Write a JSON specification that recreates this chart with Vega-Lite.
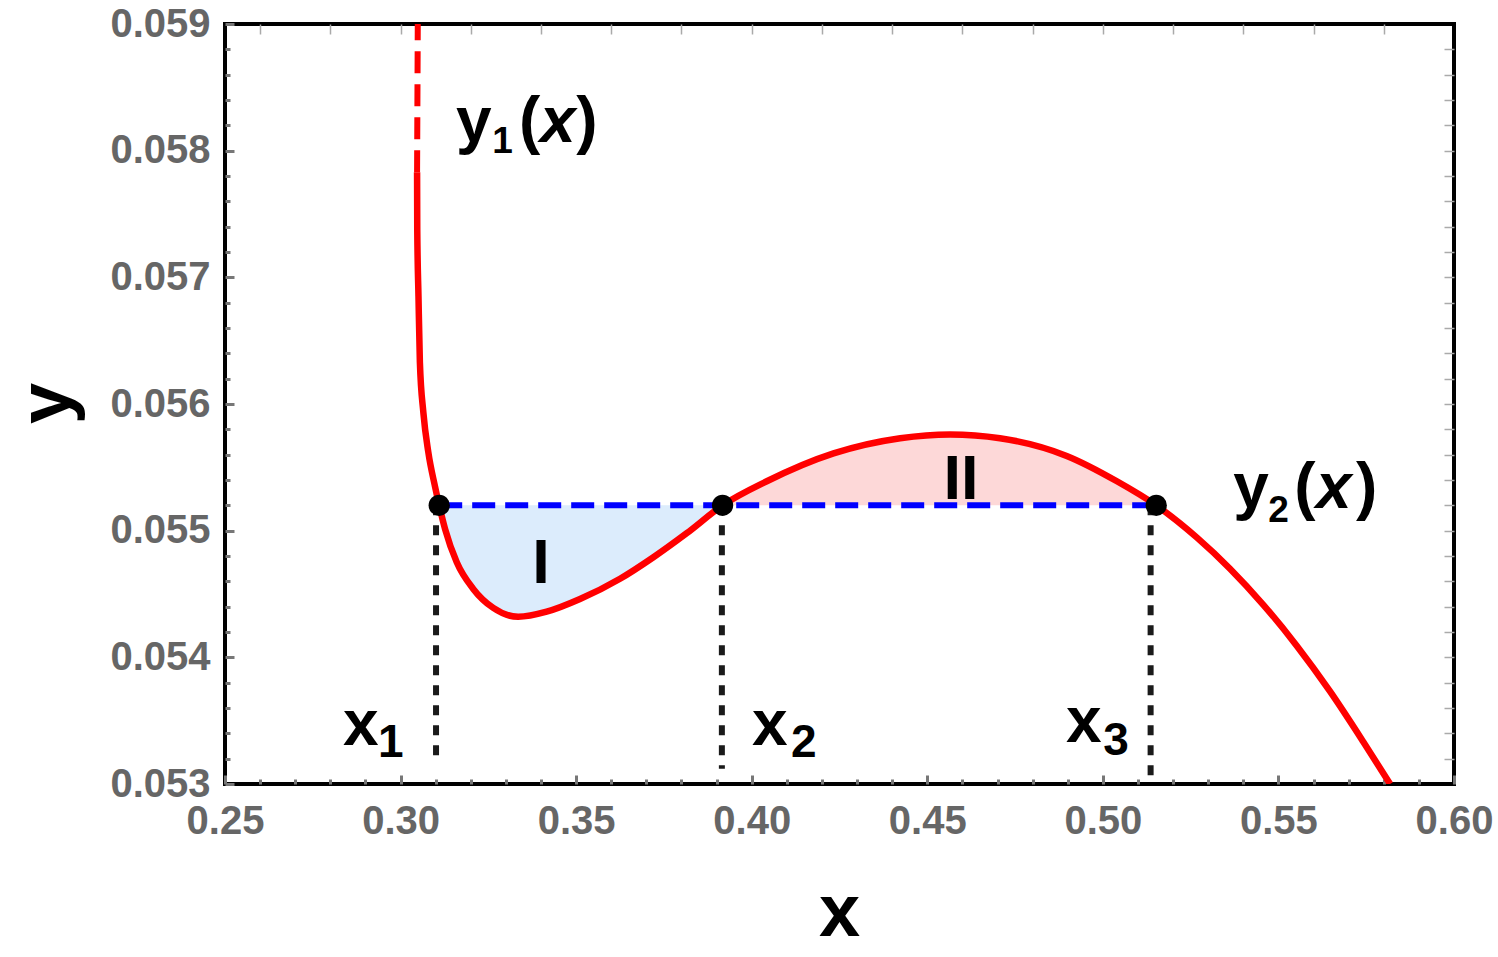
{
  "$schema": "https://vega.github.io/schema/vega-lite/v6.json",
  "width": 1229,
  "height": 760,
  "autosize": "none",
  "padding": {"left": 225, "top": 24, "right": 44, "bottom": 173},
  "background": "white",
  "config": {
    "view": {"stroke": "black", "strokeWidth": 4},
    "axis": {"domain": false, "grid": false, "labelFont": "Liberation Sans", "labelFontWeight": "bold", "labelColor": "#666666", "titleFont": "Liberation Sans", "titleFontWeight": "bold", "titleColor": "black", "labelFlush": false, "labelOverlap": false}
  },
  "datasets": {
    "curve": [
      {"x": 0.3047, "y": 0.05783}, {"x": 0.30475, "y": 0.05738}, {"x": 0.3051, "y": 0.05685}, {"x": 0.3055, "y": 0.05633},
      {"x": 0.3065, "y": 0.05593}, {"x": 0.3079, "y": 0.05562}, {"x": 0.3098, "y": 0.05535}, {"x": 0.3110, "y": 0.05520},
      {"x": 0.3127, "y": 0.05501}, {"x": 0.3160, "y": 0.05475}, {"x": 0.3207, "y": 0.05454}, {"x": 0.3264, "y": 0.05439},
      {"x": 0.3335, "y": 0.05432}, {"x": 0.3416, "y": 0.05436}, {"x": 0.3511, "y": 0.05446}, {"x": 0.3625, "y": 0.05462},
      {"x": 0.3720, "y": 0.05479}, {"x": 0.3815, "y": 0.05498}, {"x": 0.3917, "y": 0.05520}, {"x": 0.4043, "y": 0.05539},
      {"x": 0.4233, "y": 0.05561}, {"x": 0.4423, "y": 0.05573}, {"x": 0.4565, "y": 0.05576}, {"x": 0.4707, "y": 0.05573},
      {"x": 0.4897, "y": 0.05559}, {"x": 0.5040, "y": 0.05539}, {"x": 0.5152, "y": 0.05520}, {"x": 0.5268, "y": 0.054945},
      {"x": 0.5362, "y": 0.05470}, {"x": 0.5457, "y": 0.054415}, {"x": 0.5552, "y": 0.054092}, {"x": 0.5647, "y": 0.053731},
      {"x": 0.5742, "y": 0.053332}, {"x": 0.5818, "y": 0.05300}
    ],
    "topdash": [{"x": 0.3049, "y": 0.0590}, {"x": 0.3047, "y": 0.05783}],
    "fill": [
      {"region": "I", "x": 0.3110, "y": 0.05520}, {"region": "I", "x": 0.3127, "y": 0.05501}, {"region": "I", "x": 0.3160, "y": 0.05475},
      {"region": "I", "x": 0.3207, "y": 0.05454}, {"region": "I", "x": 0.3264, "y": 0.05439}, {"region": "I", "x": 0.3335, "y": 0.05432},
      {"region": "I", "x": 0.3416, "y": 0.05436}, {"region": "I", "x": 0.3511, "y": 0.05446}, {"region": "I", "x": 0.3625, "y": 0.05462},
      {"region": "I", "x": 0.3720, "y": 0.05479}, {"region": "I", "x": 0.3815, "y": 0.05498}, {"region": "I", "x": 0.3917, "y": 0.05520},
      {"region": "II", "x": 0.3917, "y": 0.05520}, {"region": "II", "x": 0.4043, "y": 0.05539}, {"region": "II", "x": 0.4233, "y": 0.05561},
      {"region": "II", "x": 0.4423, "y": 0.05573}, {"region": "II", "x": 0.4565, "y": 0.05576}, {"region": "II", "x": 0.4707, "y": 0.05573},
      {"region": "II", "x": 0.4897, "y": 0.05559}, {"region": "II", "x": 0.5040, "y": 0.05539}, {"region": "II", "x": 0.5152, "y": 0.05520}
    ],
    "tie": [{"x": 0.3110, "y": 0.0552}, {"x": 0.5152, "y": 0.0552}],
    "vlines": [{"x": 0.3101, "y": 0.0552, "y2": 0.05315}, {"x": 0.3915, "y": 0.0552, "y2": 0.05312}, {"x": 0.5136, "y": 0.0552, "y2": 0.0530}],
    "pts": [{"x": 0.3110, "y": 0.0552}, {"x": 0.3917, "y": 0.0552}, {"x": 0.5152, "y": 0.0552}],
    "mainText": [
      {"x": 0.3158, "y": 0.05807, "t": "y"}, {"x": 0.3337, "y": 0.05807, "t": "("}, {"x": 0.3500, "y": 0.05807, "t": ")"},
      {"x": 0.5371, "y": 0.05518, "t": "y"}, {"x": 0.5545, "y": 0.05518, "t": "("}, {"x": 0.5721, "y": 0.05518, "t": ")"},
      {"x": 0.2836, "y": 0.05331, "t": "x"}, {"x": 0.4001, "y": 0.05331, "t": "x"}, {"x": 0.4895, "y": 0.05333, "t": "x"}
    ],
    "italText": [{"x": 0.3397, "y": 0.05807, "t": "x"}, {"x": 0.5607, "y": 0.05518, "t": "x"}],
    "subY": [{"x": 0.3261, "y": 0.05798, "t": "1"}, {"x": 0.5471, "y": 0.05507, "t": "2"}],
    "subX": [{"x": 0.2936, "y": 0.05321, "t": "1"}, {"x": 0.4112, "y": 0.05321, "t": "2"}, {"x": 0.5001, "y": 0.05323, "t": "3"}],
    "roman": [{"x": 0.3400, "y": 0.05459, "t": "I"}, {"x": 0.4596, "y": 0.05525, "t": "II"}]
  },
  "resolve": {"axis": {"x": "independent", "y": "independent"}},
  "layer": [
    {
      "data": {"name": "fill"},
      "mark": {"type": "area", "interpolate": "monotone"},
      "encoding": {
        "x": {"field": "x", "type": "quantitative", "scale": {"domain": [0.25, 0.60], "nice": false, "zero": false},
          "axis": {"orient": "bottom", "title": "x", "titleFontSize": 74, "titleX": 614, "titleY": 151, "titleBaseline": "alphabetic", "titleAlign": "center",
            "values": [0.25,0.26,0.27,0.28,0.29,0.30,0.31,0.32,0.33,0.34,0.35,0.36,0.37,0.38,0.39,0.40,0.41,0.42,0.43,0.44,0.45,0.46,0.47,0.48,0.49,0.50,0.51,0.52,0.53,0.54,0.55,0.56,0.57,0.58,0.59,0.60],
            "labelExpr": "abs(datum.value*20 - round(datum.value*20)) < 0.001 ? format(datum.value, '.2f') : ''",
            "labelFontSize": 40, "labelPadding": 26, "tickColor": "#777777", "tickWidth": 3,
            "tickSize": {"condition": {"test": "abs(datum.value*20 - round(datum.value*20)) < 0.001", "value": -9}, "value": -5}}},
        "y": {"field": "y", "type": "quantitative", "scale": {"domain": [0.053, 0.059], "nice": false, "zero": false},
          "axis": {"orient": "left", "title": "y", "titleFontSize": 74, "titleX": -156, "titleY": 379, "titleBaseline": "alphabetic", "titleAlign": "center", "titleAngle": -90,
            "values": [0.053,0.0532,0.0534,0.0536,0.0538,0.054,0.0542,0.0544,0.0546,0.0548,0.055,0.0552,0.0554,0.0556,0.0558,0.056,0.0562,0.0564,0.0566,0.0568,0.057,0.0572,0.0574,0.0576,0.0578,0.058,0.0582,0.0584,0.0586,0.0588,0.059],
            "labelExpr": "abs(datum.value*1000 - round(datum.value*1000)) < 0.001 ? format(datum.value, '.3f') : ''",
            "labelFontSize": 40, "labelPadding": 24, "tickColor": "#777777", "tickWidth": 3,
            "tickSize": {"condition": {"test": "abs(datum.value*1000 - round(datum.value*1000)) < 0.001", "value": -9}, "value": -5}}},
        "y2": {"datum": 0.0552},
        "color": {"field": "region", "type": "nominal", "scale": {"domain": ["I", "II"], "range": ["#dcecfc", "#fdd8d8"]}, "legend": null}
      }
    },
    {
      "data": {"name": "tie"},
      "mark": {"type": "line", "color": "#0000ff", "strokeWidth": 6, "strokeDash": [23, 10]},
      "encoding": {"x": {"field": "x", "type": "quantitative", "axis": null}, "y": {"field": "y", "type": "quantitative", "axis": null}}
    },
    {
      "data": {"name": "vlines"},
      "mark": {"type": "rule", "color": "#1a1a1a", "strokeWidth": 6, "strokeDash": [10, 10]},
      "encoding": {"x": {"field": "x", "type": "quantitative", "axis": null}, "y": {"field": "y", "type": "quantitative", "axis": null}, "y2": {"field": "y2"}}
    },
    {
      "data": {"name": "curve"},
      "mark": {"type": "line", "color": "#ff0000", "strokeWidth": 6.5, "interpolate": "monotone", "clip": true},
      "encoding": {"x": {"field": "x", "type": "quantitative", "axis": null}, "y": {"field": "y", "type": "quantitative", "axis": null}}
    },
    {
      "data": {"name": "topdash"},
      "mark": {"type": "line", "color": "#ff0000", "strokeWidth": 6, "strokeDash": [22, 11], "clip": true},
      "encoding": {"x": {"field": "x", "type": "quantitative", "axis": null}, "y": {"field": "y", "type": "quantitative", "axis": null}}
    },
    {
      "data": {"name": "pts"},
      "mark": {"type": "point", "filled": true, "color": "black", "opacity": 1, "size": 450},
      "encoding": {
        "x": {"field": "x", "type": "quantitative",
          "axis": {"orient": "top", "labels": false, "title": null, "tickColor": "#aaaaaa", "tickWidth": 1.5, "tickSize": -10,
            "values": [0.26,0.28,0.30,0.32,0.34,0.36,0.38,0.40,0.42,0.44,0.46,0.48,0.50,0.52,0.54,0.56,0.58]}},
        "y": {"field": "y", "type": "quantitative",
          "axis": {"orient": "right", "labels": false, "title": null, "tickColor": "#aaaaaa", "tickWidth": 1.5, "tickSize": -10,
            "values": [0.0532,0.0534,0.0536,0.0538,0.054,0.0542,0.0544,0.0546,0.0548,0.055,0.0552,0.0554,0.0556,0.0558,0.056,0.0562,0.0564,0.0566,0.0568,0.057,0.0572,0.0574,0.0576,0.0578,0.058,0.0582,0.0584,0.0586,0.0588]}}
      }
    },
    {
      "data": {"name": "mainText"},
      "mark": {"type": "text", "font": "Liberation Sans", "fontWeight": "bold", "fontSize": 64, "align": "left", "baseline": "alphabetic", "color": "black"},
      "encoding": {"x": {"field": "x", "type": "quantitative", "axis": null}, "y": {"field": "y", "type": "quantitative", "axis": null}, "text": {"field": "t"}}
    },
    {
      "data": {"name": "italText"},
      "mark": {"type": "text", "font": "Liberation Sans", "fontWeight": "bold", "fontStyle": "italic", "fontSize": 64, "align": "left", "baseline": "alphabetic", "color": "black"},
      "encoding": {"x": {"field": "x", "type": "quantitative", "axis": null}, "y": {"field": "y", "type": "quantitative", "axis": null}, "text": {"field": "t"}}
    },
    {
      "data": {"name": "subY"},
      "mark": {"type": "text", "font": "Liberation Sans", "fontWeight": "bold", "fontSize": 37, "align": "left", "baseline": "alphabetic", "color": "black"},
      "encoding": {"x": {"field": "x", "type": "quantitative", "axis": null}, "y": {"field": "y", "type": "quantitative", "axis": null}, "text": {"field": "t"}}
    },
    {
      "data": {"name": "subX"},
      "mark": {"type": "text", "font": "Liberation Sans", "fontWeight": "bold", "fontSize": 46, "align": "left", "baseline": "alphabetic", "color": "black"},
      "encoding": {"x": {"field": "x", "type": "quantitative", "axis": null}, "y": {"field": "y", "type": "quantitative", "axis": null}, "text": {"field": "t"}}
    },
    {
      "data": {"name": "roman"},
      "mark": {"type": "text", "font": "Liberation Sans", "fontWeight": "bold", "fontSize": 63, "align": "center", "baseline": "alphabetic", "color": "black"},
      "encoding": {"x": {"field": "x", "type": "quantitative", "axis": null}, "y": {"field": "y", "type": "quantitative", "axis": null}, "text": {"field": "t"}}
    }
  ]
}
